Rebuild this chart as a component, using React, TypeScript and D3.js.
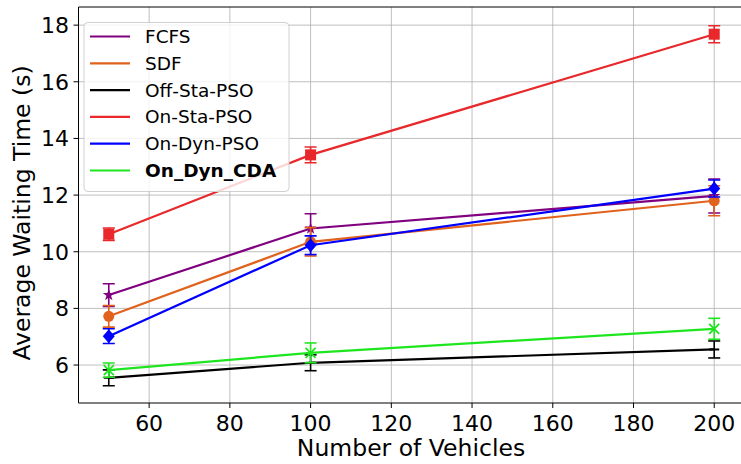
import React from "react";
import * as d3 from "d3";

const vehicles = [50, 100, 200];
const seriesNames = ["FCFS", "SDF", "Off-Sta-PSO", "On-Sta-PSO", "On-Dyn-PSO", "On_Dyn_CDA"];
const fcfs = [8.47, 10.82, 11.97];
const fcfsErr = [0.4, 0.52, 0.6];
const sdf = [7.72, 10.35, 11.8];
const sdfErr = [0.38, 0.5, 0.53];
const offSta = [5.55, 6.08, 6.55];
const offStaErr = [0.28, 0.28, 0.3];
const onSta = [10.62, 13.42, 17.68];
const onStaErr = [0.22, 0.28, 0.3];
const onDyn = [7.02, 10.23, 12.23];
const onDynErr = [0.26, 0.33, 0.3];
const cda = [5.82, 6.43, 7.28];
const cdaErr = [0.25, 0.35, 0.37];
const xTicks = [60, 80, 100, 120, 140, 160, 180, 200];
const yTicks = [6, 8, 10, 12, 14, 16, 18];

const colors = ["#800080", "#e0621c", "#000000", "#e8282a", "#0000ff", "#1ee61e"];
const markers = ["star", "circle", "hline", "square", "diamond", "x"];

const W = 741, H = 464;
const x = d3.scaleLinear().domain([42.5, 207.5]).range([78.5, 744.5]);
const y = d3.scaleLinear().domain([4.66, 18.64]).range([403, 7]);

function Marker({ kind, cx, cy, color }: { kind: string; cx: number; cy: number; color: string }) {
  if (kind === "circle") return <circle cx={cx} cy={cy} r={5.5} fill={color} />;
  if (kind === "square") return <rect x={cx - 5.5} y={cy - 5.5} width={11} height={11} fill={color} />;
  if (kind === "diamond") return <path d={`M${cx},${cy - 7}L${cx + 6},${cy}L${cx},${cy + 7}L${cx - 6},${cy}Z`} fill={color} />;
  if (kind === "x") return <path d={`M${cx - 5},${cy - 5}L${cx + 5},${cy + 5}M${cx - 5},${cy + 5}L${cx + 5},${cy - 5}`} stroke={color} strokeWidth={1.8} />;
  if (kind === "hline") return <path d={`M${cx - 5},${cy}L${cx + 5},${cy}`} stroke={color} strokeWidth={2} />;
  if (kind === "star") {
    const p = d3.symbol().type(d3.symbolStar).size(45)();
    return <path d={p || ""} transform={`translate(${cx},${cy})`} fill={color} />;
  }
  return null;
}

export default function App() {
  const values = [fcfs, sdf, offSta, onSta, onDyn, cda];
  const errs = [fcfsErr, sdfErr, offStaErr, onStaErr, onDynErr, cdaErr];
  const line = d3.line<number>().x((_, i) => x(vehicles[i])).y((d) => y(d));
  const font = "DejaVu Sans, sans-serif";
  return (
    <svg width={W} height={H} style={{ position: "absolute", left: 0, top: 0, background: "#fff" }} fontFamily={font}>
      <defs>
        <clipPath id="plot">
          <rect x={78.5} y={7} width={670} height={396} />
        </clipPath>
      </defs>
      <g>
        {xTicks.map((t) => (
          <line key={"gx" + t} x1={x(t)} x2={x(t)} y1={7} y2={403} stroke="#b0b0b0" strokeWidth={1} opacity={0.8} />
        ))}
        {yTicks.map((t) => (
          <line key={"gy" + t} x1={78.5} x2={W} y1={y(t)} y2={y(t)} stroke="#b0b0b0" strokeWidth={1} opacity={0.8} />
        ))}
      </g>
      <g clipPath="url(#plot)">
        {values.map((vals, si) => (
          <g key={si}>
            <path d={line(vals) || ""} fill="none" stroke={colors[si]} strokeWidth={2.2} />
            {vals.map((v, i) => {
              const cx = x(vehicles[i]);
              const e = errs[si][i];
              return (
                <g key={i} stroke={colors[si]} strokeWidth={1.6}>
                  <line x1={cx} x2={cx} y1={y(v - e)} y2={y(v + e)} />
                  <line x1={cx - 6} x2={cx + 6} y1={y(v - e)} y2={y(v - e)} />
                  <line x1={cx - 6} x2={cx + 6} y1={y(v + e)} y2={y(v + e)} />
                </g>
              );
            })}
            {vals.map((v, i) => (
              <Marker key={"m" + i} kind={markers[si]} cx={x(vehicles[i])} cy={y(v)} color={colors[si]} />
            ))}
          </g>
        ))}
      </g>
      <g stroke="#000" strokeWidth={1} fill="none">
        <line x1={78.5} x2={78.5} y1={7} y2={403} />
        <line x1={78.5} x2={W} y1={403} y2={403} />
        <line x1={78.5} x2={W} y1={7} y2={7} />
      </g>
      {xTicks.map((t) => (
        <g key={"xt" + t}>
          <line x1={x(t)} x2={x(t)} y1={403} y2={408} stroke="#000" />
          <text x={x(t)} y={431} textAnchor="middle" fontSize={22} fill="#000">{t}</text>
        </g>
      ))}
      {yTicks.map((t) => (
        <g key={"yt" + t}>
          <line x1={73.5} x2={78.5} y1={y(t)} y2={y(t)} stroke="#000" />
          <text x={69} y={y(t) + 8} textAnchor="end" fontSize={22} fill="#000">{t}</text>
        </g>
      ))}
      <text x={411} y={456} textAnchor="middle" fontSize={23.5} fill="#000">Number of Vehicles</text>
      <text transform={`translate(30,213) rotate(-90)`} textAnchor="middle" fontSize={23.5} fill="#000">Average Waiting Time (s)</text>
      <g>
        <rect x={84} y={22.5} width={205} height={169} rx={4} fill="#fff" fillOpacity={0.8} stroke="#d0d0d0" strokeWidth={1} />
        {seriesNames.map((n, i) => {
          const ly = 36.5 + i * 26.8;
          return (
            <g key={n}>
              <line x1={90} x2={130} y1={ly} y2={ly} stroke={colors[i]} strokeWidth={2.2} />
              <text x={145} y={ly + 6.5} fontSize={18.5} fill="#000" fontWeight={i === 5 ? "bold" : "normal"}>{n}</text>
            </g>
          );
        })}
      </g>
    </svg>
  );
}
